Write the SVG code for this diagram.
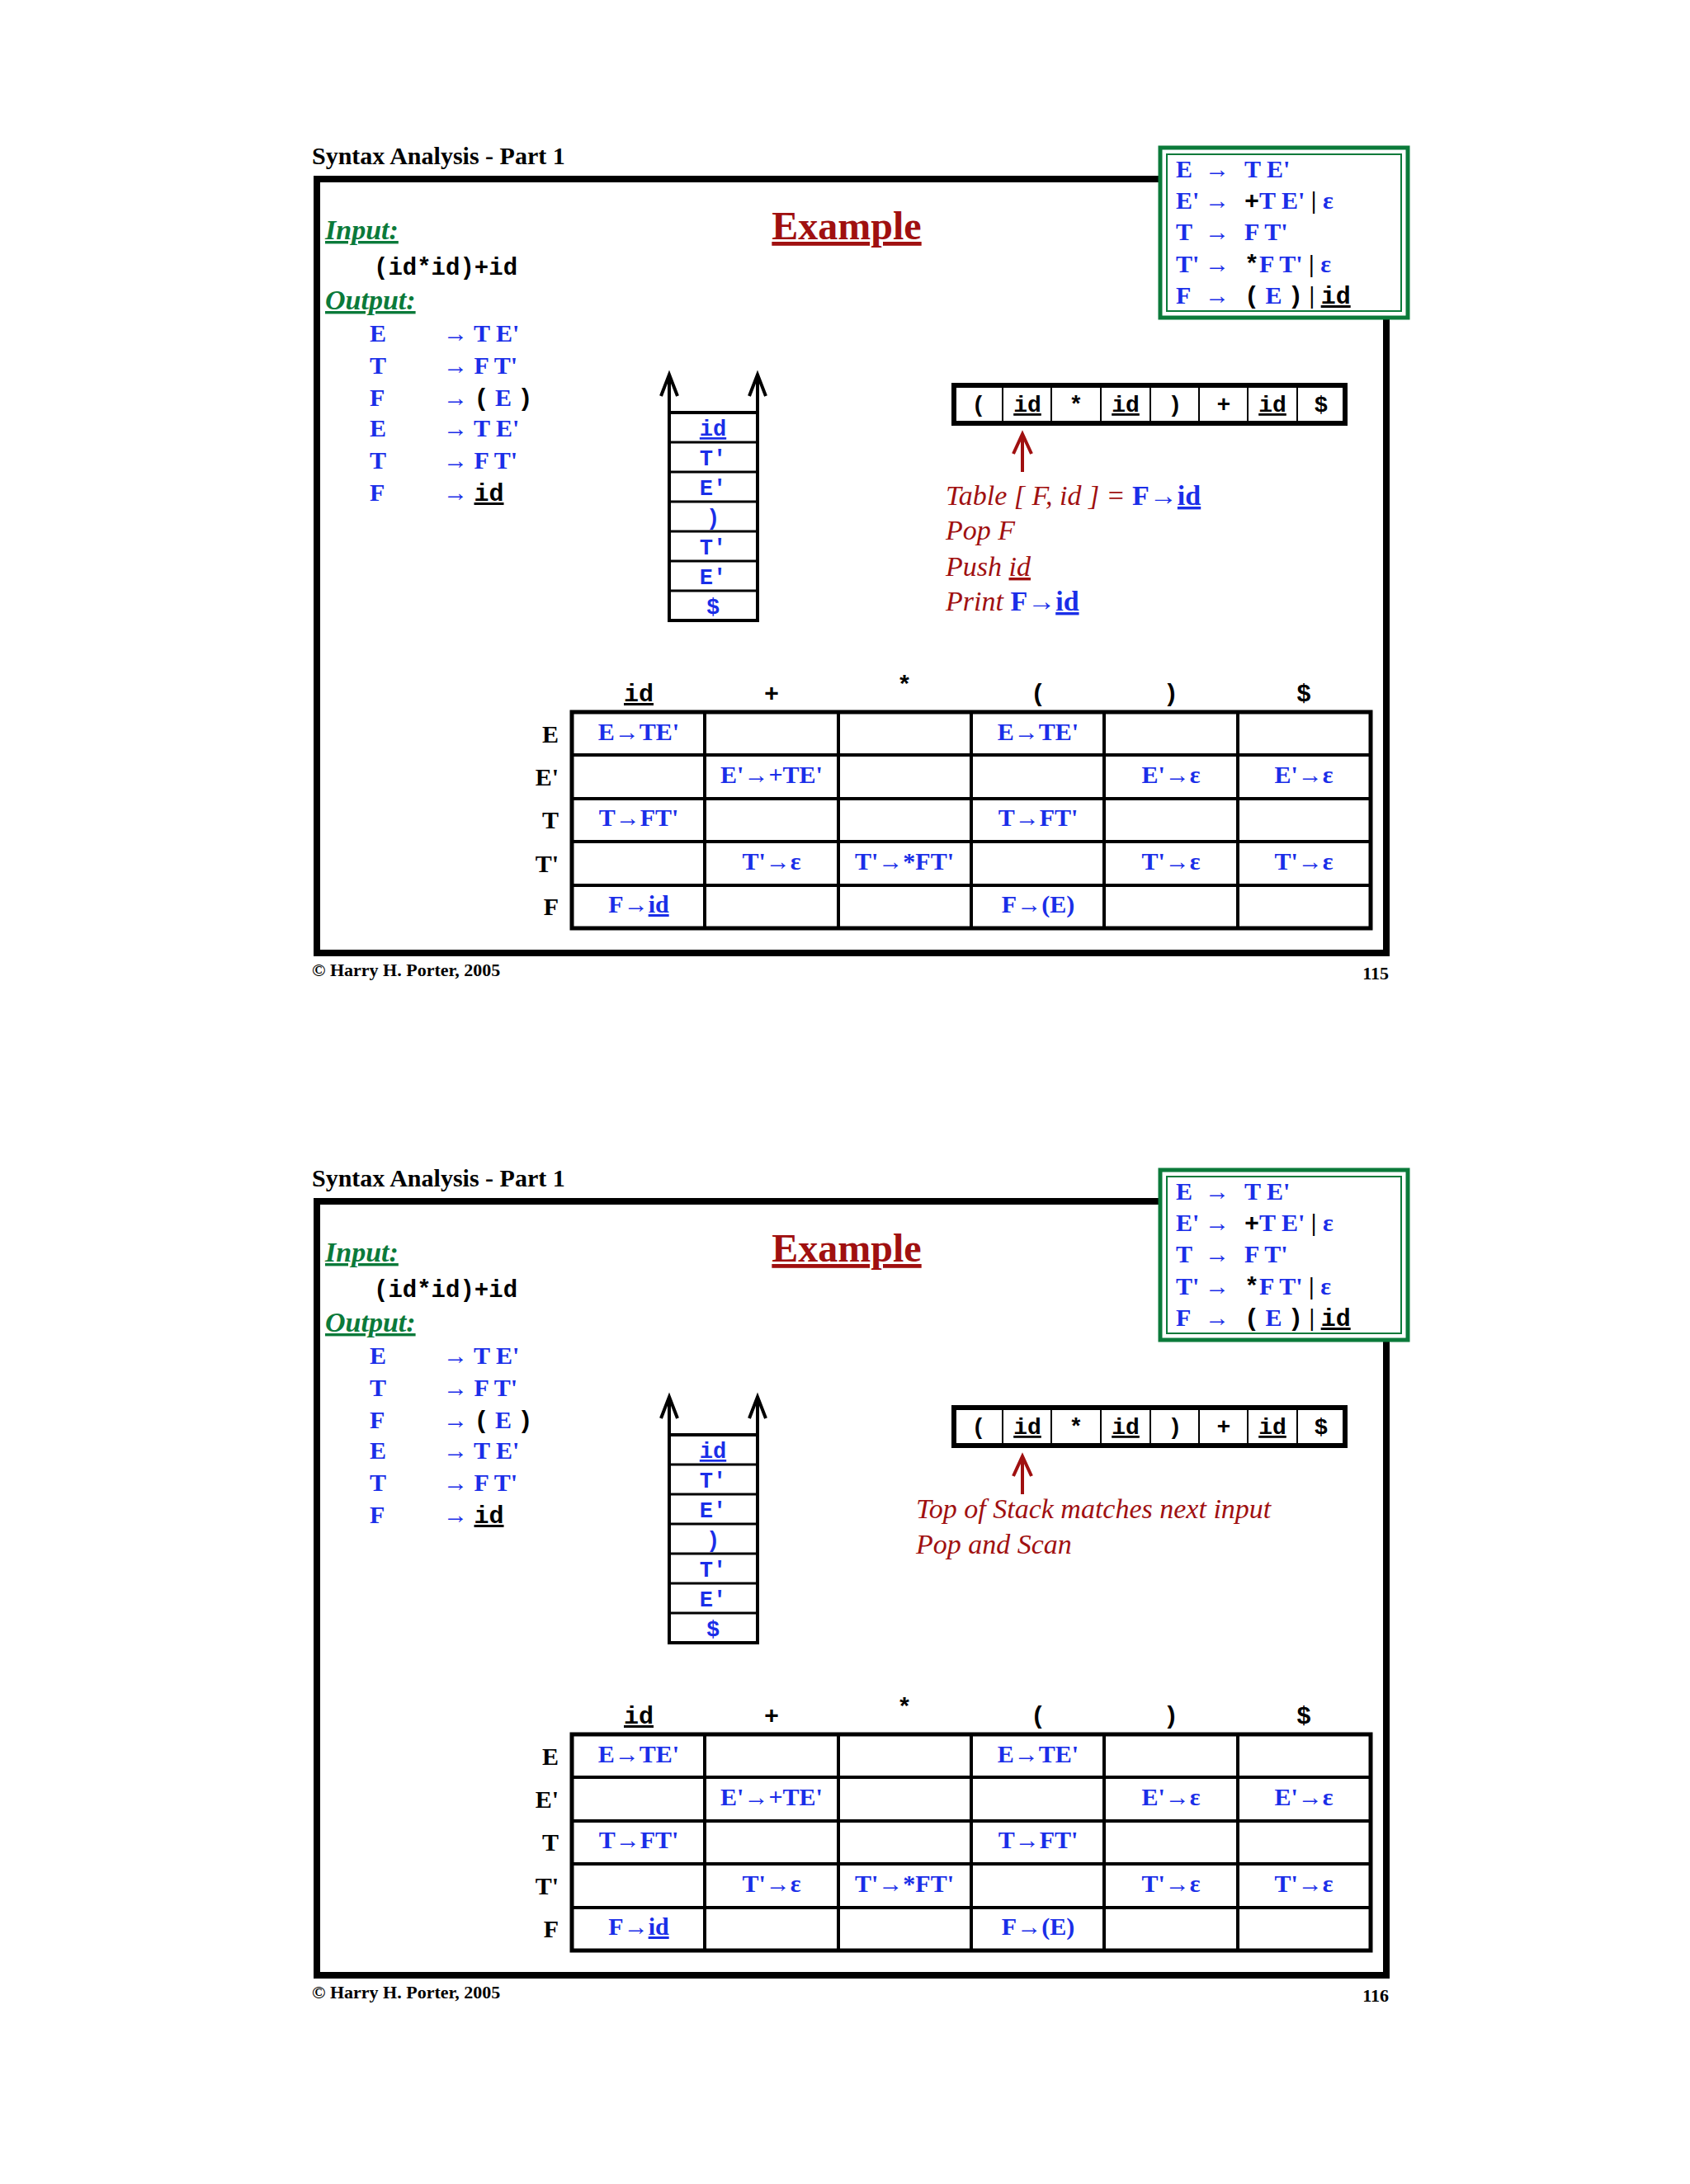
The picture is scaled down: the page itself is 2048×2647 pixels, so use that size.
<svg xmlns="http://www.w3.org/2000/svg" xmlns:xlink="http://www.w3.org/1999/xlink" width="2048" height="2647" viewBox="0 0 2048 2647">
<style>
.bl{fill:#1a2ee8;font-family:"Liberation Serif",serif;font-weight:bold}
.mo{font-family:"Liberation Mono",monospace;font-weight:bold}
.k{fill:#000}
.u{text-decoration:underline}
.red{fill:#a01010;font-family:"Liberation Serif",serif;font-style:italic;font-size:34px}
.ln{stroke:#000;fill:none}
</style>
<rect width="2048" height="2647" fill="#fff"/>
<defs>
<g id="slide">
<text x="378" y="199" font-family="Liberation Serif,serif" font-weight="bold" font-size="30">Syntax Analysis - Part 1</text>
<rect x="384" y="217" width="1296" height="938" class="ln" stroke-width="8"/>
<text x="394" y="290" font-family="Liberation Serif,serif" font-weight="bold" font-style="italic" font-size="34" fill="#0b7a3a" text-decoration="underline">Input:</text>
<text x="1026" y="290" text-anchor="middle" font-family="Liberation Serif,serif" font-weight="bold" font-size="48" fill="#a01010" text-decoration="underline">Example</text>
<text x="453" y="333" class="mo" font-size="29">(id*id)+id</text>
<text x="394" y="375" font-family="Liberation Serif,serif" font-weight="bold" font-style="italic" font-size="34" fill="#0b7a3a" text-decoration="underline">Output:</text>
<g id="output" class="bl" font-size="30">
<text x="448" y="414">E</text><text x="537" y="414">→ T E'</text>
<text x="448" y="453">T</text><text x="537" y="453">→ F T'</text>
<text x="448" y="492">F</text><text x="537" y="492">→ <tspan class="mo k">(</tspan> E <tspan class="mo k">)</tspan></text>
<text x="448" y="529">E</text><text x="537" y="529">→ T E'</text>
<text x="448" y="568">T</text><text x="537" y="568">→ F T'</text>
<text x="448" y="607">F</text><text x="537" y="607">→ <tspan class="mo k u">id</tspan></text>
</g>
<g id="grammar">
<rect x="1406" y="179" width="300" height="206" fill="#fff" stroke="#0b7a3a" stroke-width="5"/>
<rect x="1414" y="187" width="284" height="190" fill="none" stroke="#0b7a3a" stroke-width="2"/>
<g class="bl" font-size="30">
<text x="1425" y="215">E <tspan x="1460">→</tspan> <tspan x="1508">T E'</tspan></text>
<text x="1425" y="253">E' <tspan x="1460">→</tspan> <tspan x="1508" class="mo k">+</tspan>T E' <tspan class="k">|</tspan> ε</text>
<text x="1425" y="291">T <tspan x="1460">→</tspan> <tspan x="1508">F T'</tspan></text>
<text x="1425" y="330">T' <tspan x="1460">→</tspan> <tspan x="1508" class="mo k">*</tspan>F T' <tspan class="k">|</tspan> ε</text>
<text x="1425" y="368">F <tspan x="1460">→</tspan> <tspan x="1508" class="mo k">(</tspan> E <tspan class="mo k">)</tspan> <tspan class="k">|</tspan> <tspan class="mo k u">id</tspan></text>
</g>
</g>
<g id="stack">
<path class="ln" stroke-width="4" d="M811 500V456M801 480L811 454L821 480M918 500V456M908 480L918 454L928 480"/>
<rect x="811" y="500" width="107" height="252" class="ln" stroke-width="4"/>
<path class="ln" stroke-width="3" d="M811 536H918M811 572H918M811 608H918M811 644H918M811 680H918M811 716H918"/>
<g class="bl mo" font-size="27" text-anchor="middle">
<text x="864" y="528" class="u">id</text><text x="864" y="564">T'</text><text x="864" y="600">E'</text><text x="864" y="636">)</text><text x="864" y="672">T'</text><text x="864" y="708">E'</text><text x="864" y="744">$</text>
</g>
</g>
<g id="tape">
<rect x="1156" y="467" width="474" height="46" class="ln" stroke-width="6"/>
<path class="ln" stroke-width="2" d="M1215 467v46M1274 467v46M1334 467v46M1394 467v46M1453 467v46M1512 467v46M1572 467v46"/>
<g class="mo" font-size="28" text-anchor="middle">
<text x="1186" y="499">(</text><text x="1245" y="499" class="u">id</text><text x="1304" y="499">*</text><text x="1364" y="499" class="u">id</text><text x="1424" y="499">)</text><text x="1483" y="499">+</text><text x="1542" y="499" class="u">id</text><text x="1601" y="499">$</text>
</g>
<path stroke="#a01010" stroke-width="4" fill="none" d="M1239 572V528M1228 550L1239 526L1250 550"/>
</g>
<g id="table">
<g class="mo" font-size="30" text-anchor="middle">
<text x="774" y="850" class="u">id</text><text x="935" y="850">+</text><text x="1096" y="840">*</text><text x="1258" y="850">(</text><text x="1419" y="850">)</text><text x="1580" y="850">$</text>
</g>
<rect x="693" y="863" width="968" height="262" class="ln" stroke-width="5"/>
<path class="ln" stroke-width="4" d="M854 863v262M1016 863v262M1177 863v262M1338 863v262M1500 863v262M693 915H1661M693 968H1661M693 1020H1661M693 1073H1661"/>
<g font-family="Liberation Serif,serif" font-weight="bold" font-size="30" text-anchor="end">
<text x="677" y="900">E</text><text x="677" y="952">E'</text><text x="677" y="1004">T</text><text x="677" y="1057">T'</text><text x="677" y="1109">F</text>
</g>
<g class="bl" font-size="30" text-anchor="middle">
<text x="774" y="897">E→TE'</text><text x="1258" y="897">E→TE'</text>
<text x="935" y="949">E'→+TE'</text><text x="1419" y="949">E'→ε</text><text x="1580" y="949">E'→ε</text>
<text x="774" y="1001">T→FT'</text><text x="1258" y="1001">T→FT'</text>
<text x="935" y="1054">T'→ε</text><text x="1096" y="1054">T'→*FT'</text><text x="1419" y="1054">T'→ε</text><text x="1580" y="1054">T'→ε</text>
<text x="774" y="1106">F→<tspan class="u">id</tspan></text><text x="1258" y="1106">F→(E)</text>
</g>
</g>
<text x="378" y="1183" font-family="Liberation Serif,serif" font-weight="bold" font-size="22">© Harry H. Porter, 2005</text>
</g>
</defs>
<g id="slide115">
<use xlink:href="#slide"/>
<text x="1683" y="1187" text-anchor="end" font-family="Liberation Serif,serif" font-weight="bold" font-size="22">115</text>
<g id="note115">
<text x="1146" y="612" class="red">Table [ F, id ] = <tspan class="bl" font-style="normal">F→<tspan class="u">id</tspan></tspan></text>
<text x="1146" y="654" class="red">Pop F</text>
<text x="1146" y="698" class="red">Push <tspan class="u">id</tspan></text>
<text x="1146" y="740" class="red">Print <tspan class="bl" font-style="normal">F→<tspan class="u">id</tspan></tspan></text>
</g>
</g>
<g id="slide116" transform="translate(0,1239)">
<use xlink:href="#slide"/>
<text x="1683" y="1187" text-anchor="end" font-family="Liberation Serif,serif" font-weight="bold" font-size="22">116</text>
<g id="note116">
<text x="1110" y="601" class="red">Top of Stack matches next input</text>
<text x="1110" y="644" class="red">Pop and Scan</text>
</g>
</g>
</svg>
